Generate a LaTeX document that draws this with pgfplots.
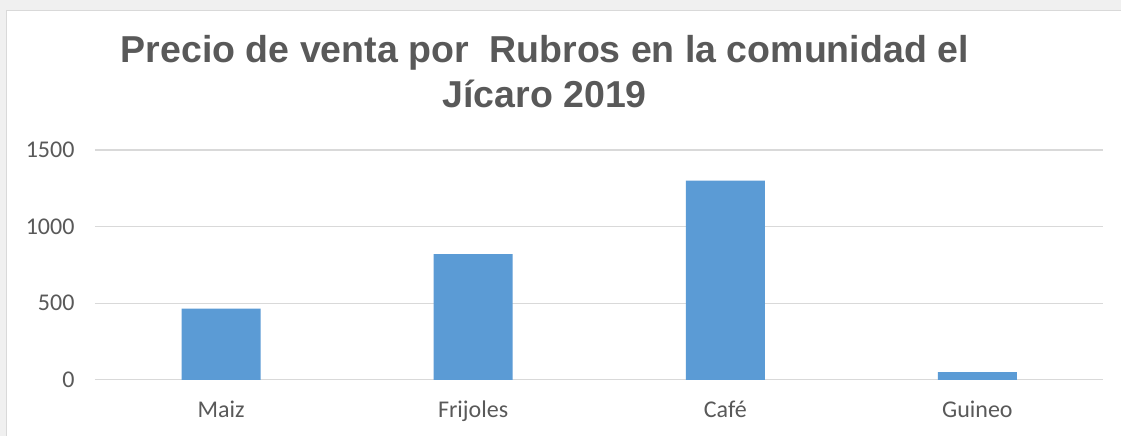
\documentclass[border=0pt]{standalone}
\usepackage{fontspec}
\setmainfont{Carlito}
\newfontfamily\titlefont{Liberation Sans}
\usepackage{pgfplots}
\pgfplotsset{compat=1.18}
\definecolor{barblue}{HTML}{5B9BD5}
\definecolor{gridgray}{HTML}{D9D9D9}
\definecolor{txtgray}{HTML}{595959}
\definecolor{outgray}{HTML}{F0F0F0}

\begin{document}
\begin{tikzpicture}
% page and chart area
\fill[outgray] (0,0) rectangle (1121bp,436bp);
\fill[white] (7bp,0) rectangle (1121bp,425bp);
\draw[gridgray, line width=1bp] (7bp,0) -- (7bp,425bp) -- (1121bp,425bp);
\useasboundingbox (0,0) rectangle (1121bp,436bp);

\begin{axis}[
  at={(95bp,56bp)}, anchor=south west,
  scale only axis, width=1009bp, height=230bp,
  ybar, bar width=79bp,
  xmin=-0.5, xmax=3.5, ymin=0, ymax=1500,
  xtick=data, xticklabels={Maiz, Frijoles, Café, Guineo},
  ytick={0,500,1000,1500},
  axis line style={draw=none}, tick style={draw=none},
  ymajorgrids, grid style={gridgray, line width=1.2bp},
  /pgf/number format/assume math mode=true,
  /pgf/number format/1000 sep={},
  tick label style={font=\fontsize{24bp}{29bp}\selectfont, text=txtgray},
  y tick label style={xshift=-17bp},
  x tick label style={yshift=-13bp},
]
\addplot[fill=barblue, draw=none] coordinates {
  (0,465) (1,820) (2,1300) (3,50)};
\end{axis}

\node[anchor=base, text=txtgray, font=\titlefont\bfseries\fontsize{37.5bp}{45bp}\selectfont]
  at (545bp,373bp) {Precio de venta por\ \ Rubros en la comunidad el};
\node[anchor=base, text=txtgray, font=\titlefont\bfseries\fontsize{37.5bp}{45bp}\selectfont]
  at (545bp,328bp) {Jícaro 2019};
\end{tikzpicture}
\end{document}
